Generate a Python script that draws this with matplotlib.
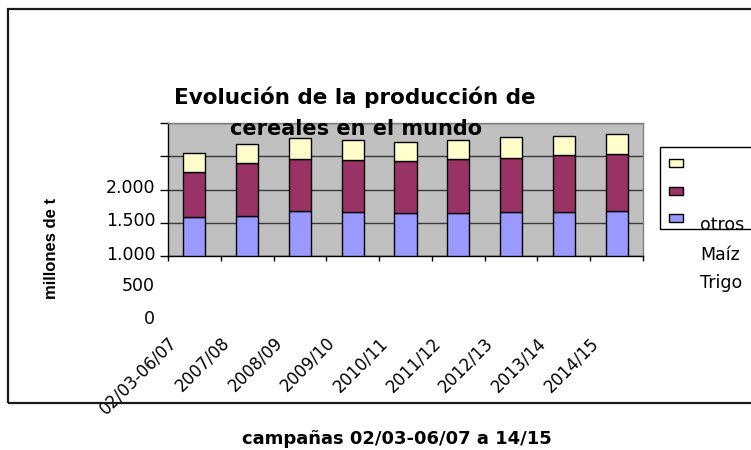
import numpy as np
import matplotlib
matplotlib.use("Agg")
import matplotlib.pyplot as plt
from matplotlib.patches import Rectangle
from matplotlib.transforms import ScaledTranslation, blended_transform_factory

# ---- data (millones de t) ----
campanas = ["02/03-06/07", "2007/08", "2008/09", "2009/10", "2010/11",
            "2011/12", "2012/13", "2013/14", "2014/15"]
trigo = [590, 605, 680, 660, 640, 640, 665, 665, 680]
maiz = [667, 791, 781, 781, 786, 821, 816, 851, 856]
otros = [289, 290, 320, 310, 290, 290, 310, 295, 305]
series_names = ["otros", "Maíz", "Trigo"]
series_colors = ["#FFFFCC", "#993366", "#9999FF"]
ytick_vals = [0, 500, 1000, 1500, 2000]
ytick_labels = ["1.000", "1.500", "2.000", "", ""]
extra_ylabels = ["500", "0"]
extra_ypos = [-500, -1000]

W, H = 751, 450
def fx(x): return x / W
def fy(y): return 1 - y / H

fig = plt.figure(figsize=(W / 100, H / 100), dpi=100)

# outer chart frame
fig.patches.append(Rectangle((fx(8), fy(403)), fx(780) - fx(8), fy(9) - fy(403),
                             transform=fig.transFigure, fill=False,
                             edgecolor="#1a1a1a", lw=1.6, zorder=0))

ax = fig.add_axes([fx(168), fy(256), (643 - 168) / W, (256 - 123) / H])
ax.set_facecolor("#C0C0C0")
x = np.arange(len(campanas))
t = np.array(trigo); m = np.array(maiz); o = np.array(otros)
bw = 0.42
ax.bar(x, t, bw, color=series_colors[2], edgecolor="black", lw=1, zorder=3)
ax.bar(x, m, bw, bottom=t, color=series_colors[1], edgecolor="black", lw=1, zorder=3)
ax.bar(x, o, bw, bottom=t + m, color=series_colors[0], edgecolor="black", lw=1, zorder=3)
ax.set_xlim(-0.5, len(campanas) - 0.5)
ax.set_ylim(0, 2000)

ax.set_yticks(ytick_vals, labels=ytick_labels)
ax.yaxis.grid(True, color="#3a3a3a", lw=1)
ax.set_axisbelow(True)
ax.tick_params(axis="y", length=5.5, width=1, pad=3.5, labelsize=12.5, colors="black")
for lab in ax.get_yticklabels():
    lab.set_fontfamily("DejaVu Sans")
    lab.set_transform(lab.get_transform() + ScaledTranslation(0, 0.035, fig.dpi_scale_trans))

ax.set_xticks(x, labels=campanas)
ax.set_xticks(np.arange(-0.5, len(campanas)), minor=True)
ax.tick_params(axis="x", which="major", length=0, pad=56, labelsize=12)
ax.tick_params(axis="x", which="minor", length=3.8, width=1, direction="out")
for lab in ax.get_xticklabels():
    lab.set_rotation(45)
    lab.set_ha("right")
    lab.set_va("top")
    lab.set_rotation_mode("anchor")
    lab.set_fontfamily("DejaVu Sans")
    lab.set_transform(lab.get_transform() + ScaledTranslation(-0.27, 0, fig.dpi_scale_trans))

tr = blended_transform_factory(fig.transFigure, ax.transData)
for lbl, yv in zip(extra_ylabels, extra_ypos):
    ax.text(fx(155), yv, lbl, transform=tr + ScaledTranslation(0, 0.035, fig.dpi_scale_trans),
            ha="right", va="center", fontsize=12.5, family="DejaVu Sans", clip_on=False)

for side in ["left", "bottom"]:
    ax.spines[side].set_color("black"); ax.spines[side].set_linewidth(1)
for side in ["top", "right"]:
    ax.spines[side].set_color("#808080"); ax.spines[side].set_linewidth(1)

# titles
fig.text(fx(355), fy(97), "Evolución de la producción de", ha="center", va="center",
         fontsize=15.5, fontweight="bold", family="DejaVu Sans")
fig.text(fx(356), fy(129), "cereales en el mundo", ha="center", va="center",
         fontsize=15, fontweight="bold", family="DejaVu Sans", zorder=10)
fig.text(fx(52), fy(248), "millones de t", rotation=90, ha="center", va="center",
         fontsize=12, fontweight="bold", family="Liberation Sans")
fig.text(fx(397), fy(439), "campañas 02/03-06/07 a 14/15", ha="center", va="center",
         fontsize=13, fontweight="bold", family="DejaVu Sans")

# legend (as drawn in the original)
fig.patches.append(Rectangle((fx(660), fy(229)), fx(800) - fx(660), fy(147) - fy(229),
                             transform=fig.transFigure, facecolor="white",
                             edgecolor="black", lw=1, zorder=1))
sw_y = [163, 191, 218]
for c, yc in zip(series_colors, sw_y):
    fig.patches.append(Rectangle((fx(669), fy(yc + 4)), fx(683) - fx(669), fy(yc - 4) - fy(yc + 4),
                                 transform=fig.transFigure, facecolor=c,
                                 edgecolor="black", lw=1, zorder=2))
for name, yc in zip(series_names, [225, 255, 283]):
    fig.text(fx(700), fy(yc), name, ha="left", va="center", fontsize=12.5,
             family="DejaVu Sans", zorder=5)

fig.savefig("out.png", dpi=100)
